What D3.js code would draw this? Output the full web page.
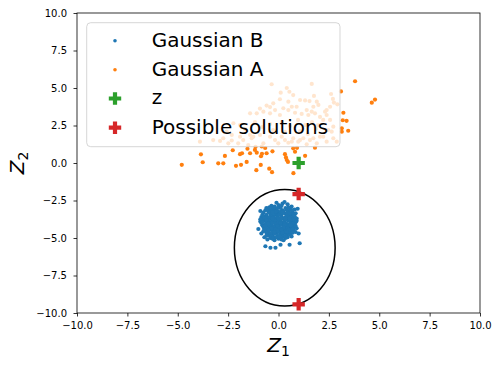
<!DOCTYPE html>
<html><head><meta charset="utf-8">
<script src="https://cdn.jsdelivr.net/npm/d3@7"></script>
<style>body{margin:0;background:#fff} svg{display:block;font-family:"DejaVu Sans",sans-serif}</style>
</head><body><svg id="c" width="500" height="365"></svg>
<script>
const xTicks=[-10,-7.5,-5,-2.5,0,2.5,5,7.5,10];
const yTicks=[-10,-7.5,-5,-2.5,0,2.5,5,7.5,10];
const legendLabels=["Gaussian B","Gaussian A","z","Possible solutions"];
const gaussianB=[
[-0.1,-2.65],[0.2,-2.7],[0.45,-2.75],[-0.35,-2.85],[0.0,-2.8],[0.65,-2.9],[0.3,-2.6],
[-0.6,-3.0],[-0.3,-3.05],[0.05,-2.95],[0.35,-3.0],[0.6,-3.05],[0.8,-3.1],[-0.15,-3.1],[0.2,-3.15],
[-0.75,-3.3],[-0.5,-3.25],[-0.25,-3.2],[0.0,-3.3],[0.25,-3.25],[0.5,-3.2],[0.7,-3.3],[-0.4,-3.4],[-0.1,-3.45],[0.15,-3.4],[0.4,-3.4],[0.6,-3.45],[0.85,-3.35],[-0.6,-3.45],
[-0.85,-3.6],[-0.65,-3.55],[-0.45,-3.6],[-0.25,-3.55],[-0.05,-3.6],[0.15,-3.55],[0.35,-3.6],[0.55,-3.55],[0.75,-3.6],[0.9,-3.7],[-0.55,-3.7],[-0.35,-3.75],[-0.15,-3.7],[0.05,-3.75],[0.25,-3.7],[0.45,-3.75],[0.65,-3.7],[-0.75,-3.75],
[-0.9,-3.9],[-0.7,-3.85],[-0.5,-3.9],[-0.3,-3.85],[-0.1,-3.9],[0.1,-3.85],[0.3,-3.9],[0.5,-3.85],[0.7,-3.9],[0.85,-3.95],[-0.6,-4.0],[-0.4,-4.05],[-0.2,-4.0],[0.0,-4.05],[0.2,-4.0],[0.4,-4.05],[0.6,-4.0],[0.8,-4.1],
[-0.8,-4.15],[-0.55,-4.2],[-0.35,-4.15],[-0.15,-4.2],[0.05,-4.15],[0.25,-4.2],[0.45,-4.15],[0.65,-4.25],[-0.45,-4.3],[-0.25,-4.35],[-0.05,-4.3],[0.15,-4.35],[0.35,-4.3],[0.55,-4.35],[-0.7,-4.35],
[-0.6,-4.5],[-0.4,-4.45],[-0.2,-4.5],[0.0,-4.45],[0.2,-4.5],[0.4,-4.45],[0.6,-4.55],[-0.3,-4.6],[-0.1,-4.65],[0.1,-4.6],[0.3,-4.65],[0.75,-4.5],
[-0.55,-4.75],[-0.3,-4.8],[-0.05,-4.85],[0.2,-4.8],[0.45,-4.75],[-0.7,-4.95],[-0.4,-5.0],[0.0,-5.05],[0.35,-5.0],[0.65,-4.9],
[-0.65,-5.55],[-0.4,-5.65],[-0.15,-5.65],[0.1,-5.45],[0.55,-5.45],[1.05,-5.35],[0.9,-4.35],[1.0,-4.7],[-1.0,-4.4],[-0.9,-3.2],[0.95,-3.05],
[-0.2,-2.9],[0.1,-3.0],[0.4,-3.1],[-0.4,-3.15],[-0.05,-3.2],[0.3,-3.35],[-0.2,-3.35],[0.75,-3.45],[-0.35,-3.5],[0.05,-3.45],[0.45,-3.5],[-0.6,-3.65],[0.6,-3.65],[0.8,-3.8],[-0.8,-3.75],[-0.4,-3.95],[0.2,-3.95],[0.5,-4.1],[-0.1,-4.1],[-0.65,-4.1],[0.3,-4.4],[-0.3,-4.4],[0.5,-4.6],[-0.5,-4.6],[0.1,-4.75],[-0.2,-4.95],[0.25,-4.9],[-0.45,-4.85],
[-0.45,-3.3],[-0.15,-3.25],[0.1,-3.25],[0.45,-3.3],[0.65,-3.15],[-0.65,-3.15],
[-0.7,-3.65],[-0.45,-3.65],[-0.25,-3.65],[0.15,-3.65],[0.4,-3.65],[0.7,-3.75],
[-0.85,-4.0],[-0.5,-3.8],[-0.2,-3.8],[0.0,-3.95],[0.35,-3.8],[0.6,-3.8],[0.75,-4.0],
[-0.75,-4.25],[-0.45,-4.15],[-0.25,-4.25],[0.15,-4.1],[0.35,-4.2],[0.55,-4.2],[0.75,-4.3],
[-0.55,-4.4],[-0.15,-4.4],[0.1,-4.4],[0.45,-4.35],[0.65,-4.45],[-0.75,-4.55],
[-0.4,-4.7],[-0.2,-4.7],[0.0,-4.6],[0.35,-4.55],[0.55,-4.7],[-0.1,-4.95],[0.15,-5.0],[0.45,-4.95],
[-0.55,-5.1],[-0.2,-5.15],[0.25,-5.15],[-0.85,-4.7],[0.85,-4.6],
[-0.55,-3.05],[-0.05,-3.0],[0.5,-2.95],[0.15,-2.85],[-0.45,-2.95],
[-0.8,-3.45],[-0.3,-3.3],[0.2,-3.3],[0.55,-3.35],[0.8,-3.55],
[-0.9,-3.75],[-0.6,-3.8],[-0.3,-3.7],[0.0,-3.7],[0.35,-3.7],[0.55,-3.7],[0.9,-3.85],
[-0.8,-3.95],[-0.5,-4.05],[-0.3,-4.0],[0.1,-4.0],[0.3,-4.05],[0.7,-4.05],
[-0.65,-4.2],[-0.05,-4.2],[0.3,-4.15],[0.6,-4.15],[0.85,-4.2],
[-0.6,-4.35],[-0.35,-4.35],[0.05,-4.35],[0.25,-4.3],[0.7,-4.4],
[-0.7,-4.45],[-0.5,-4.5],[-0.05,-4.5],[0.15,-4.45],[0.5,-4.45],
[-0.6,-4.65],[-0.2,-4.6],[0.2,-4.65],[0.4,-4.6],[0.7,-4.65],
[-0.35,-4.9],[0.05,-4.9],[0.35,-4.85],[0.6,-4.8],[-0.6,-4.85],
[-0.3,-5.05],[0.15,-5.1]
];
const gaussianA=[
[3.80,5.45],[4.63,4.02],[4.79,4.23],[3.22,3.35],[3.19,2.85],[3.38,2.81],[3.14,2.31],[3.46,2.15],[3.14,2.09],[3.10,4.77],
[-3.85,0.58],[-3.76,0.05],[-4.80,-0.12],[-2.99,-0.02],[-2.74,-0.02],[-2.66,0.47],[-2.27,0.85],[-2.11,-0.19],[-1.86,-0.12],[-1.91,0.59],
[-1.81,0.65],[-1.58,0.07],[-1.41,0.65],[-1.54,0.95],[-1.08,0.69],[-0.87,0.45],[-0.82,0.61],[-1.10,-0.48],[-0.88,-0.13],[-0.59,0.65],
[-0.30,0.78],[-0.46,-0.38],[-0.32,-0.61],[0.32,0.59],[0.37,0.37],[0.41,0.20],[0.47,0.07],[0.74,-0.68],[0.73,0.98],[0.92,1.01],
[0.82,0.75],[1.32,0.48],[1.81,1.02],[-1.14,1.08],[-0.66,1.0],[-1.17,0.87],
[-0.34,5.25],[1.65,5.27],[0.41,5.0],[0.11,4.69],[0.54,4.75],[0.73,4.53],[1.07,4.2],[1.32,4.17],[1.54,4.13],[1.76,4.47],
[2.61,4.6],[2.70,4.27],[2.75,4.03],[2.92,3.91],[1.90,4.09],[0.49,4.09],[0.07,4.25],[-0.26,3.98],[-0.59,3.83],[-0.42,3.73],
[-0.92,3.63],[-0.17,3.53],[0.24,3.65],[0.49,3.53],[0.66,3.75],[0.90,3.75],[1.40,3.53],[1.65,3.42],[1.81,3.31],[1.73,3.75],
[1.98,3.87],[2.39,3.53],[2.56,3.75],[2.31,3.42],[-1.41,3.31],[-1.08,3.31],[-0.75,3.42],[-0.42,3.31],[0.07,3.2],[0.82,3.35],
[1.15,3.27],[1.48,3.2],[2.06,3.07],[2.39,3.2],[2.56,2.87],[2.22,2.87],[-2.24,2.65],[-1.91,2.53],[2.72,2.42],[2.47,2.2],
[2.64,2.09],[-2.57,2.09],[-2.32,1.87],[-1.91,1.75],[-1.75,1.53],[-1.25,1.75],[-0.92,1.87],[-0.42,1.75],[-0.17,1.53],[0.16,1.75],
[0.32,1.53],[0.73,1.65],[0.98,1.42],[1.23,1.65],[1.56,1.53],[2.06,1.75],[2.39,1.42],[-3.24,1.53],[-3.9,1.42],[-2.0,1.31],
[-0.75,1.31],[-0.01,1.31],[0.49,1.35],[1.9,1.31],[2.72,1.65],[-2.74,1.65],[-2.32,1.5],[-1.33,1.65],[-1.5,1.2],[-2.49,1.31],
[-2.9,1.47],[-0.83,1.1],[1.4,1.25],[1.73,1.65],[2.22,1.75],[2.89,1.42],[1.07,1.53],[0.66,1.42],[-1.41,1.87],[-1.66,2.27],
[0.97,2.87],[1.32,2.53],[1.66,2.73],[0.57,2.47],[0.17,2.73],[-0.42,2.6],[-0.82,2.4],[-1.17,2.73],[1.86,2.27],[1.07,2.13],
[0.32,2.07],[-0.27,2.2],[1.46,1.93],[1.96,2.53]
];
const zPoint=[[1.0,0.0]];
const solutions=[[1.0,-2.07],[1.0,-9.42]];
const ellipseCenter=[0.31,-5.65];
const ellipseRadii=[2.5,3.89];

const C={blue:"#1f77b4",orange:"#ff7f0e",green:"#2ca02c",red:"#d62728"};
const L=77,R=480,T=13,B=313;
const svg=d3.select("#c");
const x=d3.scaleLinear().domain([-10,10]).range([L,R]);
const y=d3.scaleLinear().domain([-10,10]).range([B,T]);
const fmt=d=>d3.format(".1f")(d).replace("-","\u2212");

svg.append("defs").append("clipPath").attr("id","clip").append("rect")
 .attr("x",L).attr("y",T).attr("width",R-L).attr("height",B-T);
const plot=svg.append("g").attr("clip-path","url(#clip)");

plot.append("ellipse").attr("cx",x(ellipseCenter[0])).attr("cy",y(ellipseCenter[1]))
 .attr("rx",x(ellipseCenter[0]+ellipseRadii[0])-x(ellipseCenter[0]))
 .attr("ry",y(ellipseCenter[1])-y(ellipseCenter[1]+ellipseRadii[1]))
 .attr("fill","none").attr("stroke","#000").attr("stroke-width",1.5);

const DR=2.1;
plot.selectAll(".b").data(gaussianB).join("circle").attr("cx",d=>x(d[0])).attr("cy",d=>y(d[1])).attr("r",DR).attr("fill",C.blue);
plot.selectAll(".a").data(gaussianA).join("circle").attr("cx",d=>x(d[0])).attr("cy",d=>y(d[1])).attr("r",DR).attr("fill",C.orange);

function plusPath(h,t){return `M${-t},${-h}H${t}V${-t}H${h}V${t}H${t}V${h}H${-t}V${t}H${-h}V${-t}H${-t}Z`;}
const P=plusPath(6.2,2.1);
plot.selectAll(".z").data(zPoint).join("path").attr("d",P).attr("transform",d=>`translate(${x(d[0])},${y(d[1])})`).attr("fill",C.green);
plot.selectAll(".s").data(solutions).join("path").attr("d",P).attr("transform",d=>`translate(${x(d[0])},${y(d[1])})`).attr("fill",C.red);

// axes
const xa=svg.append("g").attr("transform",`translate(0,${B})`)
 .call(d3.axisBottom(x).tickValues(xTicks).tickFormat(fmt).tickSize(3.5).tickPadding(5));
const ya=svg.append("g").attr("transform",`translate(${L},0)`)
 .call(d3.axisLeft(y).tickValues(yTicks).tickFormat(fmt).tickSize(3.5).tickPadding(6.5));
[xa,ya].forEach(g=>{g.select(".domain").remove();g.selectAll("text").attr("font-size",10).attr("font-family","DejaVu Sans").attr("fill","#000");g.selectAll("line").attr("stroke","#000").attr("stroke-width",0.8);});
svg.append("rect").attr("x",L).attr("y",T).attr("width",R-L).attr("height",B-T).attr("fill","none").attr("stroke","#000").attr("stroke-width",0.8);

// axis labels
const xl=svg.append("text").attr("x",(L+R)/2).attr("y",352).attr("text-anchor","middle").attr("font-size",20);
xl.append("tspan").attr("font-style","italic").text("Z");
xl.append("tspan").attr("font-size",14).attr("dy",4).text("1");
const yl=svg.append("text").attr("transform",`translate(24,${(T+B)/2}) rotate(-90)`).attr("text-anchor","middle").attr("font-size",20);
yl.append("tspan").attr("font-style","italic").text("Z");
yl.append("tspan").attr("font-size",14).attr("dy",4).text("2");

// legend
const lg=svg.append("g");
lg.append("rect").attr("x",86.7).attr("y",22.7).attr("width",253.3).attr("height",124).attr("rx",4)
 .attr("fill","#fff").attr("fill-opacity",0.8).attr("stroke","#cccccc").attr("stroke-opacity",0.8).attr("stroke-width",1);
const ly=[40.7,69.7,98.5,127.7];
const types=["dot","dot","plus","plus"], cols=[C.blue,C.orange,C.green,C.red];
legendLabels.forEach((t,i)=>{
 if(types[i]==="dot") lg.append("circle").attr("cx",115).attr("cy",ly[i]).attr("r",1.8).attr("fill",cols[i]);
 else lg.append("path").attr("d",P).attr("transform",`translate(115,${ly[i]})`).attr("fill",cols[i]);
 lg.append("text").attr("x",151.7).attr("y",ly[i]+5.8).attr("font-size",20).attr("fill","#000").text(t);
});
</script></body></html>
